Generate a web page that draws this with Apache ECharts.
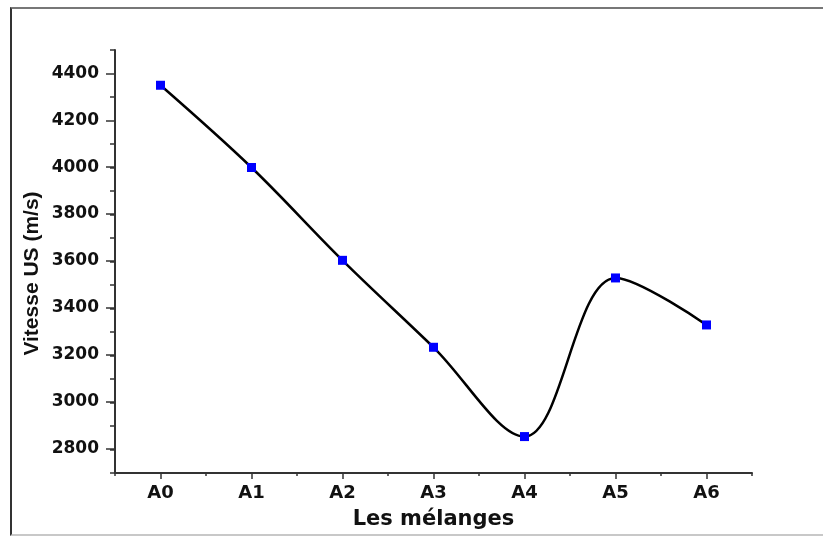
<!DOCTYPE html>
<html>
<head>
  <meta charset="UTF-8">
  <title>Vitesse US</title>
  <script src="https://cdn.jsdelivr.net/npm/echarts@6/dist/echarts.min.js"></script>
  <style>
    html, body { margin: 0; padding: 0; background: #fff; }
    #main { position: absolute; left: 0; top: 0; width: 823px; height: 536px; }
    /* cadre de la figure */
    #cadre {
      position: absolute; left: 10px; top: 7px; width: 900px; height: 529px;
      box-sizing: border-box; pointer-events: none;
      border-left: 2px solid #333; border-top: 2px solid #777; border-bottom: 2px solid #c8c8c8;
    }
  </style>
</head>
<body>
  <div id="main"></div>
  <div id="cadre"></div>
  <script type="text/javascript">
    // donnees
    var melanges = ['A0', 'A1', 'A2', 'A3', 'A4', 'A5', 'A6'];
    var vitesse = [4350, 4000, 3605, 3235, 2855, 3530, 3330];
    var yMin = 2700, yMax = 4500;      // etendue de l'axe
    var yLabMin = 2800, yLabMax = 4400; // graduations principales

    var fontH = 'DejaVu Sans';
    var axeCouleur = '#333';

    var myChart = echarts.init(document.getElementById('main'));
    var option = {
      animation: false,
      grid: [
        { left: 115, right: 71, top: 50, bottom: 63 },
        // grille auxiliaire pour les graduations principales (2800..4400)
        { left: 115, right: 71, top: 73.4, bottom: 87.7 }
      ],
      xAxis: [
        {
          type: 'category', gridIndex: 0, position: 'bottom', data: melanges,
          boundaryGap: true,
          axisLine: { lineStyle: { color: axeCouleur, width: 2 } },
          axisTick: { show: true, length: 3, lineStyle: { color: axeCouleur, width: 1.5 } },
          axisLabel: { show: false },
          name: 'Les mélanges', nameLocation: 'middle', nameGap: 36,
          nameTextStyle: { fontFamily: fontH, fontWeight: 'bold', fontSize: 21, color: '#111' }
        },
        {
          type: 'category', gridIndex: 0, position: 'bottom', data: melanges,
          boundaryGap: true,
          axisLine: { show: false },
          axisTick: { show: true, alignWithLabel: true, length: 6, lineStyle: { color: axeCouleur, width: 1.5 } },
          axisLabel: { margin: 11, fontFamily: fontH, fontWeight: 'bold', fontSize: 18, color: '#111' }
        },
        { type: 'category', gridIndex: 1, data: melanges, show: false }
      ],
      yAxis: [
        {
          type: 'value', gridIndex: 0, min: yMin, max: yMax, interval: 100,
          axisLine: { show: true, lineStyle: { color: axeCouleur, width: 2 } },
          axisTick: { show: true, length: 5, lineStyle: { color: axeCouleur, width: 1.5 } },
          axisLabel: { show: false },
          splitLine: { show: false },
          name: 'Vitesse US (m/s)', nameLocation: 'middle', nameGap: 72,
          nameTextStyle: { fontFamily: 'Liberation Sans', fontWeight: 'bold', fontSize: 21, color: '#111', padding: [0, 24, 0, 0] }
        },
        {
          type: 'value', gridIndex: 1, min: yLabMin, max: yLabMax, interval: 200,
          axisLine: { show: false },
          axisTick: { show: true, length: 9, lineStyle: { color: axeCouleur, width: 1.5 } },
          axisLabel: {
            margin: 16, fontFamily: fontH, fontWeight: 'bold', fontSize: 17, color: '#111',
            formatter: function (v) { return String(v); }
          },
          splitLine: { show: false }
        }
      ],
      series: [
        {
          name: 'Vitesse', type: 'line', xAxisIndex: 0, yAxisIndex: 0,
          data: vitesse, smooth: 0.35,
          lineStyle: { color: '#000', width: 2.5 },
          symbol: 'rect', symbolSize: 9,
          itemStyle: { color: '#0000ff' },
          z: 3
        }
      ]
    };
    myChart.setOption(option);
  </script>
</body>
</html>
